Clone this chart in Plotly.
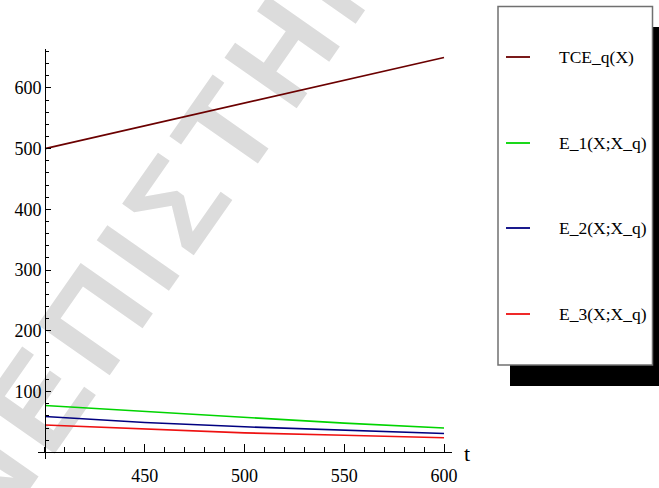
import plotly.graph_objects as go

# ---- data ----
t = [400, 450, 500, 550, 600]
tce = [500, 537.5, 575, 612.5, 650]
e1 = [77, 67, 57, 48, 40]
e2 = [59, 49, 42, 36, 31]
e3 = [45, 38, 32, 28, 24]
series_names = ["TCE_q(X)", "E_1(X;X_q)", "E_2(X;X_q)", "E_3(X;X_q)"]
x_ticks = [450, 500, 550, 600]
y_ticks = [100, 200, 300, 400, 500, 600]
x_label = "t"
watermark = "ΝΕΠΙΣΤΗΜ"

# ---- styles ----
COLORS = ["#6b0000", "#00d400", "#000080", "#ee1111"]
SERIF = '"Liberation Serif", "Times New Roman", Times, serif'

W, H = 659, 488
ML, MR, MT, MB = 38, 207, 49, 29
PW, PH = W - ML - MR, H - MT - MB


def px(x):
    return (x - ML) / PW


def py(y):
    return (H - MB - y) / PH


XR = [396.5, 604]
YR = [-11, 664]

fig = go.Figure()
for vals, name, col in zip([tce, e1, e2, e3], series_names, COLORS):
    fig.add_trace(go.Scatter(x=t, y=vals, mode="lines", name=name,
                             line=dict(color=col, width=1.6), showlegend=False))

shapes = []
# watermark (behind the data)
shapes.append(dict(type="rect", xref="paper", yref="paper",
                   x0=px(145), x1=px(165), y0=py(222), y1=py(202),
                   line=dict(width=0), fillcolor="rgba(0,0,0,0)", layer="below",
                   label=dict(text="\u200a".join(watermark), textangle=-55,
                              textposition="middle center",
                              font=dict(family="Liberation Sans, Arial, sans-serif",
                                        size=128, color="#dcdcdc", weight="bold"))))
# legend shadow and box
shapes.append(dict(type="rect", xref="paper", yref="paper",
                   x0=px(510), x1=px(670), y0=py(386), y1=py(27),
                   line=dict(width=0), fillcolor="black", layer="above"))
shapes.append(dict(type="rect", xref="paper", yref="paper",
                   x0=px(498), x1=px(652.5), y0=py(365), y1=py(6.5),
                   line=dict(width=1.5, color="#707070"), fillcolor="white", layer="above"))

annotations = []
entry_y = [57, 143, 228, 314]
for name, col, ey in zip(series_names, COLORS, entry_y):
    shapes.append(dict(type="line", xref="paper", yref="paper",
                       x0=px(506), x1=px(530), y0=py(ey), y1=py(ey),
                       line=dict(color=col, width=1.8), layer="above"))
    annotations.append(dict(xref="paper", yref="paper", x=px(557), y=py(ey),
                            xanchor="left", yanchor="middle", showarrow=False,
                            text=name, font=dict(family=SERIF, size=17.5, color="black")))

annotations.append(dict(xref="paper", yref="paper", x=px(467), y=py(453),
                        xanchor="center", yanchor="middle", showarrow=False,
                        text=x_label, font=dict(family=SERIF, size=22, color="black")))

fig.update_layout(
    width=W, height=H,
    margin=dict(l=ML, r=MR, t=MT, b=MB, autoexpand=False),
    paper_bgcolor="white", plot_bgcolor="white",
    font=dict(family=SERIF, size=18, color="black"),
    shapes=shapes, annotations=annotations,
    xaxis=dict(range=XR, anchor="free", position=(0 - YR[0]) / (YR[1] - YR[0]),
               automargin=False,
               showline=True, linecolor="black", linewidth=1,
               showgrid=False, zeroline=False,
               ticks="inside", ticklen=8, tickwidth=1, tickcolor="black",
               tickvals=x_ticks, ticktext=[str(v) for v in x_ticks],
               ticklabelstandoff=7,
               tickfont=dict(family=SERIF, size=18, color="black"),
               minor=dict(tick0=400, dtick=10, ticks="inside", ticklen=5,
                          tickwidth=1, tickcolor="black", showgrid=False)),
    yaxis=dict(range=YR, anchor="free", position=(400 - XR[0]) / (XR[1] - XR[0]),
               automargin=False,
               showline=True, linecolor="black", linewidth=1,
               showgrid=False, zeroline=False,
               ticks="inside", ticklen=5, tickwidth=1, tickcolor="black",
               tickvals=y_ticks, ticktext=[str(v) for v in y_ticks],
               tickfont=dict(family=SERIF, size=18, color="black"),
               minor=dict(tick0=0, dtick=20, ticks="inside", ticklen=3,
                          tickwidth=1, tickcolor="black", showgrid=False)),
)

fig.write_html("out.html")
